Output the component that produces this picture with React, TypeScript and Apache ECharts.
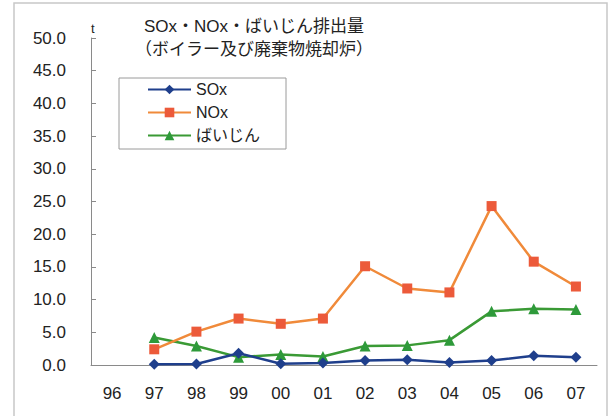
import React, { useEffect, useRef } from "react";
import * as echarts from "echarts";

const categories = ["96", "97", "98", "99", "00", "01", "02", "03", "04", "05", "06", "07"];
const sox = [null, 0.1, 0.15, 1.8, 0.2, 0.3, 0.7, 0.8, 0.4, 0.7, 1.4, 1.2];
const nox = [null, 2.4, 5.1, 7.1, 6.3, 7.1, 15.1, 11.7, 11.1, 24.3, 15.8, 12.0];
const dust = [null, 4.2, 2.9, 1.2, 1.6, 1.3, 2.9, 3.0, 3.8, 8.2, 8.6, 8.5];
const seriesNames = ["SOx", "NOx", "ばいじん"];
const titleLines = ["SOx・NOx・ばいじん排出量", "（ボイラー及び廃棄物焼却炉）"];
const unitLabel = "t";

const FONT = "'Liberation Sans', 'Noto Sans CJK JP', sans-serif";

export default function App() {
  const ref = useRef<HTMLDivElement>(null);
  useEffect(() => {
    if (!ref.current) return;
    const chart = echarts.init(ref.current, null, { renderer: "svg" });
    chart.setOption({
      animation: false,
      backgroundColor: "#ffffff",
      textStyle: { fontFamily: FONT },
      title: {
        text: titleLines.join("\n"),
        left: 249,
        textAlign: "center",
        top: 10,
        textStyle: { fontSize: 17, fontWeight: "normal", color: "#222", lineHeight: 23, fontFamily: FONT },
      },
      graphic: [
        {
          type: "rect",
          shape: { x: 14, y: 3, width: 593, height: 420 },
          style: { fill: "none", stroke: "#c8c8c8", lineWidth: 1.5 },
          silent: true,
        },
      ],
      legend: {
        orient: "vertical",
        left: 119,
        top: 78,
        data: seriesNames,
        itemWidth: 43,
        itemHeight: 12,
        itemGap: 6,
        padding: [3, 26, 5, 28],
        borderColor: "#9a9a9a",
        borderWidth: 1,
        borderRadius: 0,
        textStyle: { fontSize: 16, color: "#222", fontFamily: FONT, lineHeight: 17 },
      },
      grid: { left: 91, right: 19, top: 38, bottom: 51, containLabel: false },
      xAxis: {
        type: "category",
        data: categories,
        boundaryGap: true,
        axisLine: { lineStyle: { color: "#8a8a8a", width: 1 } },
        axisTick: { inside: true, length: 5, lineStyle: { color: "#8a8a8a" } },
        axisLabel: { fontSize: 17, color: "#222", margin: 20, fontFamily: FONT },
      },
      yAxis: {
        type: "value",
        min: 0,
        max: 50,
        interval: 5,
        name: unitLabel,
        nameLocation: "end",
        nameGap: 3,
        nameTextStyle: { fontSize: 13, color: "#222", align: "left", padding: [0, 0, 0, 0] },
        splitLine: { show: false },
        axisLine: { show: true, lineStyle: { color: "#8a8a8a", width: 1 } },
        axisTick: { show: true, inside: true, length: 5, lineStyle: { color: "#8a8a8a" } },
        axisLabel: {
          fontSize: 17,
          color: "#222",
          margin: 25,
          fontFamily: FONT,
          formatter: (v: number) => v.toFixed(1),
        },
      },
      series: [
        {
          name: seriesNames[0],
          type: "line",
          data: sox,
          symbol: "diamond",
          symbolSize: 11,
          itemStyle: { color: "#1f3f8c" },
          lineStyle: { color: "#1f3f8c", width: 2.5 },
          z: 4,
        },
        {
          name: seriesNames[1],
          type: "line",
          data: nox,
          symbol: "rect",
          symbolSize: 10,
          itemStyle: { color: "#ec5a3a" },
          lineStyle: { color: "#f08a3a", width: 2.5 },
          z: 3,
        },
        {
          name: seriesNames[2],
          type: "line",
          data: dust,
          symbol: "triangle",
          symbolSize: 11,
          itemStyle: { color: "#2e9a3a" },
          lineStyle: { color: "#3a9a35", width: 2.5 },
          z: 2,
        },
      ],
    });
    return () => chart.dispose();
  }, []);
  return <div ref={ref} style={{ width: 616, height: 416, position: "fixed", left: 0, top: 0 }} />;
}
